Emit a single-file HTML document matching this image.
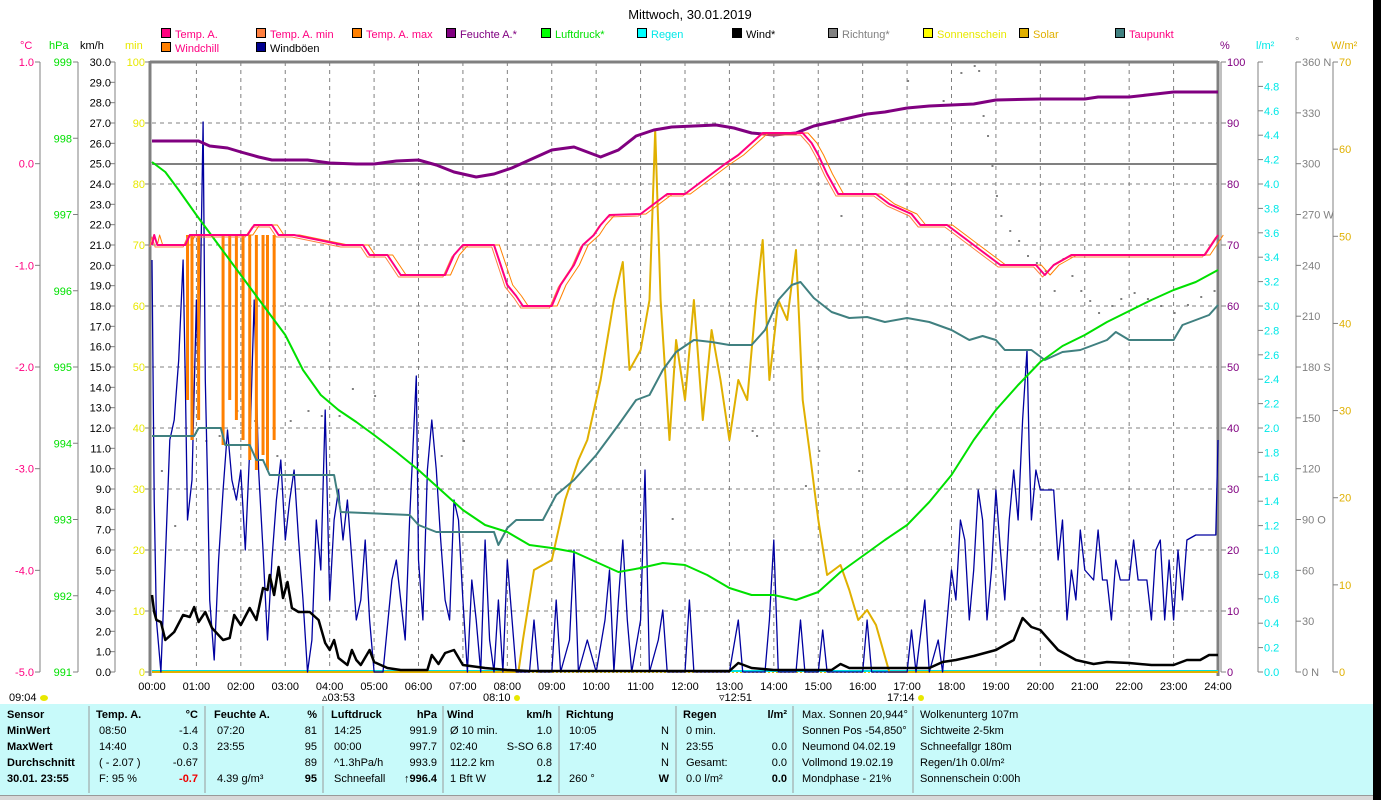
<!DOCTYPE html>
<html><head><meta charset="utf-8"><style>
body{margin:0;background:#fff;width:1381px;height:800px;overflow:hidden;font-family:"Liberation Sans",sans-serif}
svg text{font-family:"Liberation Sans",sans-serif;font-size:11px}
</style></head><body>
<svg id="s" width="1381" height="800" xmlns="http://www.w3.org/2000/svg">
<rect x="1373" y="0" width="8" height="800" fill="#000"/>
<rect x="0" y="704" width="1373" height="91" fill="#c8fafa"/>
<rect x="0" y="795" width="1373" height="5" fill="#d8d8d8"/>
<line x1="0" y1="795.5" x2="1373" y2="795.5" stroke="#999"/>
<text x="690" y="19" text-anchor="middle" style="font-size:13px">Mittwoch, 30.01.2019</text>
</svg>
<script>
const S=document.getElementById('s');const NS='http://www.w3.org/2000/svg';
function el(t,a,txt){const e=document.createElementNS(NS,t);for(const k in a)e.setAttribute(k,a[k]);if(txt!==undefined)e.textContent=txt;S.appendChild(e);return e;}
const X0=152,X1=1218,Y0=62,Y1=672;const X=h=>X0+(X1-X0)*h/24;
// grid
for(let i=1;i<10;i++){const y=Y0+61*i;if(i==0)continue;el('line',{x1:X0,x2:X1,y1:y,y2:y,stroke:'#808080','stroke-dasharray':'4,4'});}
for(let h=1;h<24;h++){el('line',{x1:X(h),x2:X(h),y1:Y0,y2:Y1,stroke:'#808080','stroke-dasharray':'4,4'});}
el('line',{x1:X0,x2:X1,y1:164,y2:164,stroke:'#808080','stroke-width':2});
el('line',{x1:150,x2:X1,y1:62,y2:62,stroke:'#808080','stroke-width':3});
el('line',{x1:150,x2:150,y1:61,y2:676,stroke:'#808080','stroke-width':3});
el('line',{x1:1218,x2:1218,y1:61,y2:676,stroke:'#808080','stroke-width':3});
el('line',{x1:X0,x2:X1,y1:671,y2:671,stroke:'#00e0e0','stroke-width':2});
el('line',{x1:X0,x2:X1,y1:672.5,y2:672.5,stroke:'#e0c000','stroke-dasharray':'2,2'});
// left axes
function axis(x,labels,color,lx,anchor,dir){el('line',{x1:x,x2:x,y1:62,y2:672,stroke:'#808080'});
 labels.forEach(([y,t])=>{el('line',{x1:x,x2:x+dir*5,y1:y,y2:y,stroke:'#808080'});if(t!=='')el('text',{x:lx,y:y+4,fill:color,'text-anchor':anchor},t);});}
let L=[];for(let i=0;i<7;i++)L.push([62+101.67*i,(1-i).toFixed(1)]);axis(40,L,'#ff0080',34,'end',-1);
L=[];for(let i=0;i<9;i++)L.push([62+76.25*i,String(999-i)]);axis(78,L,'#00e000',72,'end',-1);
L=[];for(let i=0;i<=30;i++)L.push([62+20.333*i,(30-i).toFixed(1)]);axis(115,L,'#000',111,'end',-1);
for(let i=0;i<=10;i++){const y=62+61*i;el('line',{x1:145,x2:150,y1:y,y2:y,stroke:'#808080'});el('text',{x:145,y:y+4,fill:'#e8e800','text-anchor':'end'},String(100-10*i));}
el('text',{x:20,y:49,fill:'#ff0080'},'°C');el('text',{x:49,y:49,fill:'#00e000'},'hPa');el('text',{x:80,y:49},'km/h');el('text',{x:125,y:49,fill:'#e8e800'},'min');
// right axes
L=[];for(let i=0;i<=10;i++)L.push([62+61*i,String(100-10*i)]);axis(1221,L,'#800080',1227,'start',1);
L=[[62,'']];for(let i=0;i<=24;i++)L.push([672-24.4*i,(0.2*i).toFixed(1)]);L.pop();L.push([86.4,'4.8']);axis(1258,L,'#00e8e8',1264,'start',1);
const D=['0 N','30','60','90 O','120','150','180 S','210','240','270 W','300','330','360 N'];L=[];for(let i=0;i<=12;i++)L.push([672-50.83*i,D[i]]);axis(1296,L,'#808080',1302,'start',1);
L=[];for(let i=0;i<=7;i++)L.push([672-87.14*i,String(10*i)]);axis(1333,L,'#e0b000',1339,'start',1);
el('text',{x:1220,y:49,fill:'#800080'},'%');el('text',{x:1256,y:49,fill:'#00e8e8'},'l/m²');el('text',{x:1295,y:45,fill:'#808080'},'°');el('text',{x:1331,y:49,fill:'#e0b000'},'W/m²');
// x labels
for(let h=0;h<=24;h++)el('text',{x:X(h),y:690,'text-anchor':'middle'},(h<10?'0':'')+h+':00');
el('text',{x:9,y:701},'09:04');el('ellipse',{cx:44,cy:698,rx:4,ry:3,fill:'#e8e800'});
el('text',{x:322,y:701},'▵03:53');el('text',{x:483,y:701},'08:10');el('circle',{cx:517,cy:698,r:3,fill:'#e8e800'});
el('text',{x:719,y:701},'▿12:51');el('text',{x:887,y:701},'17:14');el('circle',{cx:921,cy:698,r:3,fill:'#e8e800'});
// legend
const LG=[[161,37,'#ff0080','Temp. A.','#ff0080'],[256,37,'#ff8040','Temp. A. min','#ff0080'],[352,37,'#ff8000','Temp. A. max','#ff0080'],[446,37,'#800080','Feuchte A.*','#800080'],[541,37,'#00ff00','Luftdruck*','#00e000'],[637,37,'#00ffff','Regen','#00e8e8'],[732,37,'#000','Wind*','#000'],[828,37,'#808080','Richtung*','#808080'],[923,37,'#ffff00','Sonnenschein','#e8e800'],[1019,37,'#e0b000','Solar','#e0b000'],[1115,37,'#408080','Taupunkt','#ff0080'],[161,51,'#ff8000','Windchill','#ff0080'],[256,51,'#000090','Windböen','#000']];
LG.forEach(([x,y,c,t,tc])=>{el('rect',{x:x+0.5,y:y-8.5,width:9,height:9,fill:c,stroke:'#000'});el('text',{x:x+14,y:y+1,fill:tc},t);});
function pl(pts,c,w,isY){el('polyline',{points:pts.map(p=>X(p[0]).toFixed(1)+','+p[1]).join(' '),fill:'none',stroke:c,'stroke-width':w,'stroke-linejoin':'round'});}
const hm=s=>{const [a,b]=s.split(':');return +a+ b/60;};
function P(arr){return arr.map(([t,y])=>[typeof t=='string'?hm(t):t,y]);}
// gray direction dots
const dots=[[0.2,470],[0.5,525],[1.2,440],[1.5,435],[1.9,410],[2.3,420],[2.8,455],[3.1,420],[3.5,410],[3.8,415],[4.2,415],[4.5,388],[5.0,395],[6.5,455],[7.0,440],[11.7,518],[17.0,80],[17.8,100],[18.2,72],[18.5,65],[18.6,70],[18.7,115],[18.8,135],[18.9,165],[19.0,195],[19.1,215],[19.3,230],[19.5,240],[19.7,255],[19.9,262],[20.1,270],[20.3,290],[20.5,258],[20.7,275],[20.9,290],[21.1,300],[21.3,312],[21.6,305],[21.8,298],[22.1,292],[22.4,298],[22.7,305],[23.0,312],[23.3,304],[23.6,296],[23.9,290],[13.5,430],[13.6,435],[14.7,485],[15.0,450],[15.5,215],[15.9,470]];
dots.forEach(([h,y])=>el('rect',{x:X(h),y:y,width:2,height:2,fill:'#808080'}));
// solar
pl(P([[0,672],[8.25,672],[8.35,640],[8.6,570],[9.0,560],[9.3,500],[9.6,460],[9.8,440],[10.1,380],[10.4,300],[10.6,262],[10.75,370],[11.0,350],[11.2,300],[11.33,130],[11.45,300],[11.65,440],[11.8,340],[12.0,400],[12.2,300],[12.4,420],[12.6,330],[12.8,380],[13.0,440],[13.2,380],[13.4,400],[13.6,300],[13.75,240],[13.9,380],[14.1,300],[14.3,320],[14.5,250],[14.65,400],[14.8,450],[15.0,520],[15.2,575],[15.5,565],[15.7,590],[15.9,620],[16.1,610],[16.3,625],[16.6,672],[24,672]]),'#e0b000',2);
// gust
const G=[[0,260],[0.05,500],[0.1,620],[0.2,672],[0.3,560],[0.4,440],[0.5,420],[0.6,360],[0.7,260],[0.75,380],[0.8,520],[0.9,480],[1.0,300],[1.05,400],[1.15,122],[1.2,380],[1.25,480],[1.3,600],[1.4,660],[1.5,560],[1.6,490],[1.7,430],[1.8,480],[1.9,500],[2.0,470],[2.1,550],[2.2,450],[2.3,300],[2.4,470],[2.5,550],[2.6,640],[2.7,560],[2.8,500],[2.9,460],[3.0,540],[3.1,500],[3.2,470],[3.3,540],[3.4,600],[3.5,672],[3.6,640],[3.7,520],[3.8,570],[3.9,410],[4.0,600],[4.1,520],[4.2,490],[4.3,540],[4.4,500],[4.5,560],[4.6,620],[4.7,600],[4.8,540],[4.9,620],[5.0,672],[5.2,672],[5.4,580],[5.5,560],[5.6,600],[5.7,640],[5.8,520],[5.95,376],[6.0,560],[6.1,620],[6.2,470],[6.3,420],[6.4,470],[6.5,540],[6.6,600],[6.7,620],[6.8,500],[6.9,520],[7.0,600],[7.1,672],[7.2,580],[7.3,620],[7.4,672],[7.5,540],[7.6,640],[7.7,672],[7.8,600],[7.9,672],[8.0,560],[8.2,672],[8.5,672],[8.6,620],[8.7,672],[9.0,672],[9.1,600],[9.2,672],[9.4,640],[9.5,550],[9.6,672],[9.8,640],[10.0,672],[10.2,620],[10.3,570],[10.4,672],[10.5,600],[10.6,540],[10.7,620],[10.8,672],[11.0,620],[11.1,470],[11.2,672],[11.4,640],[11.5,610],[11.6,672],[12.0,672],[12.1,600],[12.2,672],[13.0,672],[13.2,620],[13.3,672],[13.8,672],[13.9,620],[14.0,540],[14.1,672],[14.5,672],[14.6,620],[14.7,672],[15.0,672],[15.1,630],[15.2,672],[16.0,672],[16.1,620],[16.2,672],[17.0,672],[17.1,630],[17.2,672],[17.4,600],[17.5,672],[17.7,640],[17.8,672],[18.0,570],[18.1,600],[18.2,520],[18.3,540],[18.4,620],[18.5,570],[18.6,490],[18.7,520],[18.8,620],[18.9,570],[19.0,490],[19.1,550],[19.2,600],[19.3,520],[19.4,470],[19.5,520],[19.6,420],[19.7,350],[19.75,450],[19.8,520],[19.9,470],[20.0,490],[20.3,490],[20.4,560],[20.5,520],[20.6,620],[20.7,570],[20.8,600],[20.9,530],[21.0,570],[21.2,580],[21.3,530],[21.4,580],[21.5,580],[21.6,620],[21.7,560],[21.8,580],[22.0,580],[22.1,540],[22.2,580],[22.4,580],[22.5,620],[22.6,550],[22.7,540],[22.8,620],[22.9,560],[23.0,620],[23.1,550],[23.2,600],[23.3,540],[23.5,535],[23.7,535],[23.95,535],[24.0,440]];
pl(G,'#0000a0',1.3);
// windchill bars
[[0.8,400],[0.9,440],[1.05,420],[1.6,445],[1.75,400],[1.9,420],[2.05,440],[2.2,460],[2.35,470],[2.5,455],[2.6,470],[2.75,440]].forEach(([h,y])=>el('line',{x1:X(h),x2:X(h),y1:235,y2:y,stroke:'#ff8000','stroke-width':3}));
// dew point
pl(P([[0,436],[0.95,436],[1.05,428],[1.55,428],[1.65,445],[2.2,445],[2.35,460],[2.5,460],[2.65,475],[4.1,475],[4.25,512],[5.8,515],[6.0,525],[6.4,532],[7.7,532],[7.8,545],[8.0,528],[8.2,520],[8.8,520],[9.1,495],[9.5,480],[10.0,455],[10.5,425],[10.9,400],[11.2,395],[11.5,370],[11.8,352],[12.2,340],[12.6,342],[13.0,345],[13.5,345],[13.8,330],[14.1,300],[14.4,285],[14.6,282],[14.9,298],[15.3,312],[15.7,318],[16.1,317],[16.5,322],[17.0,318],[17.5,322],[18.0,330],[18.4,340],[18.7,336],[19.0,340],[19.2,350],[19.8,350],[20.1,360],[20.5,352],[20.9,350],[21.2,345],[21.5,340],[21.7,332],[22.0,340],[23.0,340],[23.2,325],[23.8,315],[24,305]]),'#408080',2);
// pressure
pl(P([[0,162],[0.3,172],[0.6,190],[1.0,215],[1.5,245],[2.0,275],[2.5,305],[3.0,335],[3.4,370],[3.8,395],[4.2,410],[4.6,422],[5.0,435],[5.5,452],[6.0,470],[6.5,490],[7.0,510],[7.5,525],[8.0,532],[8.5,545],[9.0,548],[9.5,552],[10.0,562],[10.5,572],[11.0,568],[11.5,563],[12.0,565],[12.5,575],[13.0,588],[13.5,595],[14.0,595],[14.5,600],[15.0,592],[15.5,572],[16.0,556],[16.5,540],[17.0,525],[17.5,502],[18.0,475],[18.5,440],[19.0,410],[19.5,385],[20.0,362],[20.5,346],[21.0,335],[21.5,322],[22.0,311],[22.5,300],[23.0,290],[23.5,282],[24,270]]),'#00e000',2);
// humidity
pl(P([[0,141],[1.05,141],[1.3,146],[1.7,148],[2.0,152],[2.4,157],[2.7,160],[3.5,160],[4.0,163],[4.6,164],[5.0,164],[5.5,161],[6.0,160],[6.4,165],[6.8,172],[7.3,177],[7.7,174],[8.1,168],[8.5,160],[9.0,150],[9.5,147],[9.8,152],[10.1,157],[10.5,150],[10.9,136],[11.3,130],[11.7,127],[12.2,126],[12.7,125],[13.1,128],[13.5,133],[14.0,135],[14.5,133],[14.9,126],[15.3,122],[15.7,118],[16.1,114],[16.5,112],[17.0,108],[17.5,106],[18.5,104],[19.0,100],[20.0,99],[21.0,99],[21.3,97],[22.0,97],[22.4,95],[23.0,92],[24,92]]),'#800080',3);
// temp max / min / temp
const T=P([[0,245],[0.05,235],[0.12,245],[0.75,245],[0.85,235],[2.15,235],[2.3,225],[2.7,225],[2.85,235],[3.2,235],[4.3,245],[4.75,245],[4.9,255],[5.3,255],[5.45,265],[5.6,275],[6.6,275],[6.8,255],[7.0,245],[7.7,245],[7.85,265],[8.0,285],[8.2,296],[8.35,306],[9.0,306],[9.2,285],[9.5,265],[9.7,245],[9.95,235],[10.1,225],[10.3,215],[11.0,214],[11.3,204],[11.6,194],[12.0,194],[12.3,184],[12.6,174],[12.9,164],[13.2,155],[13.5,143],[13.75,133],[14.65,133],[14.85,143],[15.0,155],[15.2,174],[15.45,194],[16.3,194],[16.6,204],[17.1,214],[17.3,225],[17.9,225],[18.2,235],[18.5,245],[18.8,255],[19.1,265],[19.9,265],[20.1,275],[20.3,265],[20.7,255],[23.7,255],[24,235]]);
pl(T.map(([h,y])=>[h+0.12,y]),'#ff8000',1);
pl(T.map(([h,y])=>[h-0.05,y+2]),'#ff8040',1);
pl(T,'#ff0080',2);
// wind mean
pl(P([[0,595],[0.05,612],[0.1,620],[0.2,622],[0.3,640],[0.5,632],[0.7,615],[0.85,617],[0.95,607],[1.05,622],[1.2,612],[1.35,628],[1.6,640],[1.75,638],[1.85,615],[2.0,625],[2.2,608],[2.35,620],[2.5,588],[2.6,590],[2.65,575],[2.75,595],[2.85,567],[2.95,598],[3.05,582],[3.15,608],[3.3,612],[3.55,612],[3.75,620],[3.9,643],[4.0,650],[4.1,640],[4.2,658],[4.4,665],[4.5,650],[4.6,660],[4.7,665],[4.9,650],[5.0,662],[5.3,668],[5.6,670],[6.2,670],[6.3,655],[6.45,664],[6.6,653],[6.8,650],[7.0,665],[7.5,668],[8.0,670],[8.5,671],[13.0,671],[13.2,663],[13.5,668],[14.0,670],[15.3,670],[15.5,664],[15.7,668],[17.5,668],[17.8,662],[18.1,660],[18.5,656],[19.0,650],[19.4,640],[19.6,618],[19.8,627],[20.0,630],[20.4,650],[20.8,660],[21.2,664],[21.5,662],[22.0,663],[22.5,665],[23.0,665],[23.3,660],[23.6,660],[23.8,655],[24,655]]),'#000',2.5);
// table
const ty=[718,734,750,766,782];
function tx(x,y,t,o){o=o||{};el('text',Object.assign({x:x,y:y,'font-size':'11px'},o),t);}
[89,205,323,443,559,676,793,913].forEach(x=>{el('line',{x1:x,x2:x,y1:706,y2:793,stroke:'#999'});});
const B={'font-weight':'bold'};
tx(7,ty[0],'Sensor',B);tx(7,ty[1],'MinWert',B);tx(7,ty[2],'MaxWert',B);tx(7,ty[3],'Durchschnitt',B);tx(7,ty[4],'30.01. 23:55',B);
function col(x0,x1,head,unit,rows){tx(x0,ty[0],head,B);tx(x1,ty[0],unit,Object.assign({'text-anchor':'end'},B));rows.forEach((r,i)=>{tx(x0+3,ty[i+1],r[0]);tx(x1,ty[i+1],r[1],r[2]||{'text-anchor':'end'});});}
col(96,198,'Temp. A.','°C',[['08:50','-1.4'],['14:40','0.3'],['( - 2.07 )','-0.67'],['F: 95 %','-0.7',{'text-anchor':'end','font-weight':'bold',fill:'#f00000'}]]);
col(214,317,'Feuchte A.','%',[['07:20','81'],['23:55','95'],['','89'],['4.39 g/m³','95',{'text-anchor':'end','font-weight':'bold'}]]);
col(331,437,'Luftdruck','hPa',[[' 14:25','991.9'],[' 00:00','997.7'],['^1.3hPa/h','993.9'],['Schneefall','↑996.4',{'text-anchor':'end','font-weight':'bold'}]]);
col(447,552,'Wind','km/h',[['Ø 10 min.','1.0'],['  02:40','S-SO 6.8'],['  112.2 km','0.8'],['  1 Bft W','1.2',{'text-anchor':'end','font-weight':'bold'}]]);
col(566,669,'Richtung','',[['10:05','N'],['17:40','N'],['','N'],['260 °','W',{'text-anchor':'end','font-weight':'bold'}]]);
col(683,787,'Regen','l/m²',[['0 min.',''],['23:55','0.0'],['Gesamt:','0.0'],['0.0 l/m²','0.0',{'text-anchor':'end','font-weight':'bold'}]]);
[['Max. Sonnen 20,944°'],['Sonnen Pos  -54,850°'],['Neumond    04.02.19'],['Vollmond    19.02.19'],['Mondphase      - 21%']].forEach((r,i)=>tx(802,ty[i],r[0],{'xml:space':'preserve'}));
[['Wolkenunterg   107m'],['Sichtweite       2-5km'],['Schneefallgr     180m'],['Regen/1h      0.0l/m²'],['Sonnenschein  0:00h']].forEach((r,i)=>tx(920,ty[i],r[0],{'xml:space':'preserve'}));
</script>
</body></html>
